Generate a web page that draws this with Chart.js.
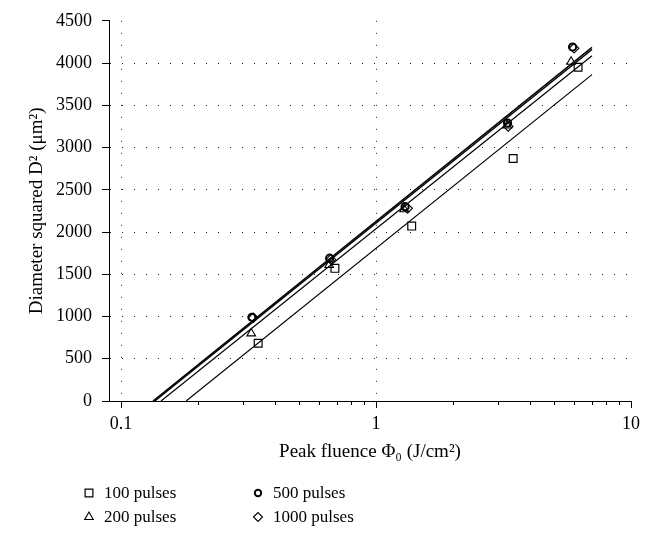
<!DOCTYPE html>
<html>
<head>
<meta charset="utf-8">
<script src="https://cdn.jsdelivr.net/npm/chart.js@4.4.0/dist/chart.umd.min.js"></script>
<style>
  body { margin: 0; background: #fff; }
</style>
</head>
<body>
<canvas id="fluenceChart" width="660" height="539"></canvas>
<script>
// measured points, fluence in J/cm2 and D^2 in um^2
const fluence100 = [0.345, 0.69, 1.38, 3.45, 6.2];
const dsq100 = [683, 1570, 2070, 2870, 3950];
const fluence200 = [0.324, 0.655, 1.29, 3.27, 5.82];
const dsq200 = [800, 1610, 2270, 3260, 4015];
const fluence500 = [0.326, 0.658, 1.30, 3.28, 5.9];
const dsq500 = [990, 1690, 2300, 3290, 4190];
const fluence1000 = [0.33, 0.665, 1.33, 3.3, 5.98];
const dsq1000 = [985, 1675, 2280, 3250, 4175];

// fitted lines (start at threshold fluence, D^2 = 0)
const fitX100 = [0.18, 7.03];
const fitY100 = [0, 3863];
const fitX200 = [0.1435, 7.03];
const fitY200 = [0, 4087];
const fitX500 = [0.1355, 7.03];
const fitY500 = [0, 4160];
const fitX1000 = [0.1335, 7.03];
const fitY1000 = [0, 4185];

const xTicks = [0.1, 0.2, 0.3, 0.4, 0.5, 0.6, 0.7, 0.8, 0.9, 1, 2, 3, 4, 5, 6, 7, 8, 9, 10];
const xGridAt = [0.1, 1];
const yTicks = [0, 500, 1000, 1500, 2000, 2500, 3000, 3500, 4000, 4500];

const FONT = "'Liberation Serif', 'DejaVu Serif', serif";

function pts(xs, ys) {
  return xs.map((x, i) => ({x: x, y: ys[i]}));
}
function isMajor(v) {
  const l = Math.log10(v);
  return Math.abs(l - Math.round(l)) < 1e-6;
}

function markerSet(label, xs, ys, style, r, bw) {
  return {
    label: label,
    data: pts(xs, ys),
    pointStyle: style,
    pointRadius: r,
    pointHoverRadius: r,
    pointBorderWidth: bw,
    pointBackgroundColor: 'rgba(255,255,255,0)',
    pointBorderColor: '#000',
    showLine: false
  };
}
function fitSet(label, xs, ys, w) {
  return {
    label: label,
    data: pts(xs, ys),
    showLine: true,
    borderColor: '#000',
    borderWidth: w,
    pointRadius: 0,
    fill: false
  };
}

const legendItems = [
  {text: '100 pulses', style: 'rect', r: 5.5, bw: 1.2, col: 0, row: 0},
  {text: '200 pulses', style: 'triangle', r: 5, bw: 1.1, col: 0, row: 1},
  {text: '500 pulses', style: 'circle', r: 3.2, bw: 2, col: 1, row: 0},
  {text: '1000 pulses', style: 'rectRot', r: 4.5, bw: 1.1, col: 1, row: 1}
];

const extrasPlugin = {
  id: 'extras',
  afterDraw(chart) {
    const ctx = chart.ctx;
    const xs = chart.scales.x;
    ctx.save();
    // short minor ticks on the x axis
    ctx.strokeStyle = '#000';
    ctx.lineWidth = 1;
    ctx.beginPath();
    xTicks.forEach(v => {
      if (isMajor(v)) return;
      const px = Math.round(xs.getPixelForValue(v)) + 0.5;
      ctx.moveTo(px, xs.top);
      ctx.lineTo(px, xs.top + 4);
    });
    ctx.stroke();

    // legend in two columns
    const colX = [89, 258];
    const rowY = [493, 517];
    ctx.font = '17px ' + FONT;
    ctx.fillStyle = '#000';
    ctx.textBaseline = 'middle';
    ctx.textAlign = 'left';
    legendItems.forEach(it => {
      const mx = colX[it.col];
      const my = rowY[it.row];
      ctx.save();
      ctx.strokeStyle = '#000';
      ctx.fillStyle = 'rgba(255,255,255,0)';
      ctx.lineWidth = it.bw;
      Chart.helpers.drawPoint(ctx, {pointStyle: it.style, radius: it.r, rotation: 0, borderWidth: it.bw}, mx, my);
      ctx.restore();
      ctx.fillText(it.text, mx + 15, my + 1);
    });
    ctx.restore();
  }
};

new Chart(document.getElementById('fluenceChart'), {
  type: 'scatter',
  data: {
    datasets: [
      markerSet('100 pulses', fluence100, dsq100, 'rect', 5.5, 1.2),
      markerSet('200 pulses', fluence200, dsq200, 'triangle', 5, 1.1),
      markerSet('500 pulses', fluence500, dsq500, 'circle', 3.6, 2),
      markerSet('1000 pulses', fluence1000, dsq1000, 'rectRot', 4.8, 1.1),
      fitSet('fit 100', fitX100, fitY100, 1.2),
      fitSet('fit 200', fitX200, fitY200, 1.2),
      fitSet('fit 500', fitX500, fitY500, 1.5),
      fitSet('fit 1000', fitX1000, fitY1000, 1.5)
    ]
  },
  options: {
    responsive: false,
    animation: false,
    events: [],
    layout: {padding: {top: 19, right: 29, bottom: 66, left: 0}},
    plugins: {
      legend: {display: false},
      tooltip: {enabled: false}
    },
    scales: {
      x: {
        type: 'logarithmic',
        min: 0.0897,
        max: 10,
        afterBuildTicks: scale => { scale.ticks = xTicks.map(v => ({value: v})); },
        afterFit: scale => { scale.height = 72; },
        border: {display: true, color: '#000', width: 1, dash: [1, 11]},
        grid: {
          drawTicks: true,
          tickLength: 7,
          lineWidth: 1,
          color: c => (c.tick && xGridAt.includes(c.tick.value)) ? '#222' : 'rgba(0,0,0,0)',
          tickColor: c => (c.tick && isMajor(c.tick.value)) ? '#000' : 'rgba(0,0,0,0)'
        },
        ticks: {
          autoSkip: false,
          maxRotation: 0,
          padding: 5,
          color: '#000',
          font: {family: FONT, size: 18},
          callback: v => isMajor(v) ? String(v) : ''
        },
        title: {
          display: true,
          text: 'Peak fluence Φ₀ (J/cm²)',
          color: '#000',
          font: {family: FONT, size: 19},
          padding: {top: 0, bottom: 10}
        }
      },
      y: {
        min: 0,
        max: 4500,
        afterBuildTicks: scale => { scale.ticks = yTicks.map(v => ({value: v})); },
        afterFit: scale => { scale.width = 109; },
        border: {display: true, color: '#000', width: 1, dash: [1, 11]},
        grid: {
          drawTicks: true,
          tickLength: 7,
          lineWidth: 1,
          color: c => (c.tick && c.tick.value > 0 && c.tick.value < 4500) ? '#222' : 'rgba(0,0,0,0)',
          tickColor: '#000'
        },
        ticks: {
          padding: 10,
          color: '#000',
          font: {family: FONT, size: 18},
          callback: v => String(v)
        },
        title: {
          display: true,
          text: 'Diameter squared D² (μm²)',
          color: '#000',
          font: {family: FONT, size: 19},
          padding: {top: 26, bottom: 0}
        }
      }
    }
  },
  plugins: [extrasPlugin]
});
</script>
</body>
</html>
